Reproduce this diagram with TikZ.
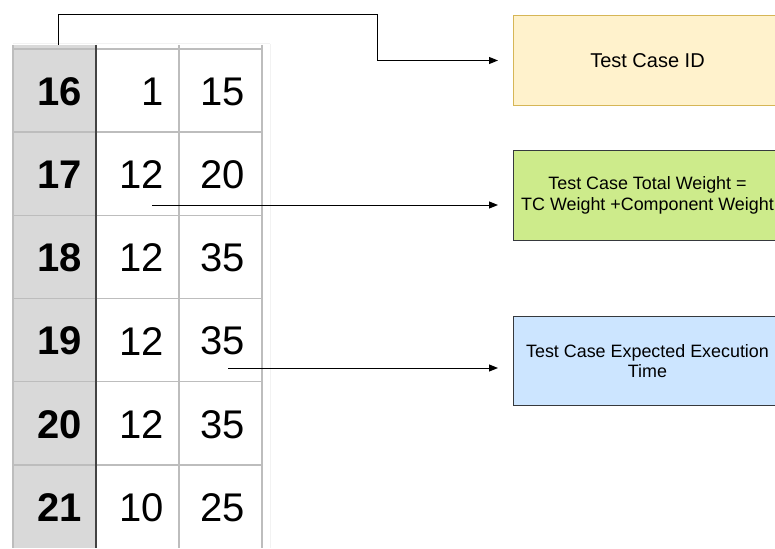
\documentclass[tikz,border=0pt]{standalone}
\usepackage{fontspec}
\setmainfont{Liberation Sans}
\usetikzlibrary{arrows.meta,calc}
\definecolor{tgray}{HTML}{D9D9D9}
\definecolor{gridc}{HTML}{BDBDBD}
\definecolor{faintc}{HTML}{F2F2F2}
\definecolor{darkc}{HTML}{444444}
\definecolor{ofill}{HTML}{FFF2CC}
\definecolor{oline}{HTML}{D6B656}
\definecolor{gfill}{HTML}{CDEB8B}
\definecolor{bfill}{HTML}{CCE5FF}
\definecolor{bline}{HTML}{36393D}
\begin{document}
\begin{tikzpicture}[x=1pt,y=-1pt,
  gridl/.style={draw=gridc,line width=1.5pt},
  faint/.style={draw=faintc,line width=1pt},
  num/.style={inner sep=0pt,anchor=east,font=\fontsize{40}{48}\selectfont},
  idnum/.style={num,font=\fontsize{40}{48}\selectfont\bfseries},
  infobox/.style={draw,line width=1pt,anchor=north west,minimum width=268,minimum height=90,align=center,inner sep=0pt},
  conn/.style={draw=black,line width=1pt,-{Triangle[length=9pt,width=7pt]},shorten >=15pt}]
\useasboundingbox (0,0) rectangle (775,548);
\clip (0,0) rectangle (775,548);
% table
\fill[tgray] (13,45) rectangle (96,548);
\draw[faint] (13,44) -- (270,44);
\draw[faint] (270,44) -- (270,548);
\foreach \y in {49,132.2,215.3,298.5,381.7,464.8}
  \draw[gridl] (13,\y) -- (262,\y);
\foreach \x in {13,179,262}
  \draw[gridl] (\x,45) -- (\x,548);
\draw[draw=darkc,line width=2.2pt] (96,45) -- (96,548);
\foreach \a/\b/\c [count=\i] in {16/1/15,17/12/20,18/12/35,19/12/35,20/12/35,21/10/25}{
  \pgfmathsetmacro\yy{49+83.17*(\i-0.5)+1}
  \node[idnum] (id\i) at (82,\yy) {\a};
  \node[num] (w\i) at (164,\yy) {\b};
  \node[num] (t\i) at (245,\yy) {\c};
}
% boxes
\node[infobox,fill=ofill,draw=oline,font=\fontsize{20}{24}\selectfont] (tid) at (513,15) {Test Case ID};
\node[infobox,fill=gfill,draw=bline,font=\fontsize{17.9}{20.5}\selectfont] (tw) at (513,150) {Test Case Total Weight =\\TC Weight +Component Weight};
\node[infobox,fill=bfill,draw=bline,font=\fontsize{17.9}{20}\selectfont,minimum height=89] (te) at (513,316) {Test Case Expected Execution\\Time};
% connectors
\coordinate (s1) at (58,45);
\coordinate (k1) at (377,15);
\draw[conn] (s1) |- (k1) |- (tid.west);
\coordinate (s2) at (152,205);
\draw[conn] (s2) -- (s2 -| tw.west);
\coordinate (s3) at (228,368);
\draw[conn] (s3) -- (s3 -| te.west);
\end{tikzpicture}
\end{document}
